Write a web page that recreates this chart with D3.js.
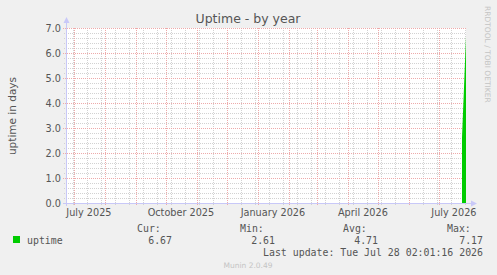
<!DOCTYPE html>
<html>
<head>
<meta charset="utf-8">
<script src="https://cdn.jsdelivr.net/npm/d3@7"></script>
<style>
  html, body { margin: 0; padding: 0; background: #f0f0f0; }
</style>
</head>
<body>
<div id="chart"></div>
<script>
var startTime = "2025-06-23T02:01:16";
var endTime = "2026-07-28T02:01:16";
var sampleDates = ["2026-07-24", "2026-07-25", "2026-07-26", "2026-07-27", "2026-07-28"];
var uptimeValues = [2.61, 3.62, 4.62, 5.65, 6.67];
var yTicks = [0, 1, 2, 3, 4, 5, 6, 7];
var statLabels = ["Cur:", "Min:", "Avg:", "Max:"];
var statValues = ["6.67", "2.61", "4.71", "7.17"];
var seriesName = "uptime";
var lastUpdate = "Last update: Tue Jul 28 02:01:16 2026";

var drawChart = function() {

    // sizes
    const width = 497, height = 275;
    const left = 66, right = 466, top = 28, bottom = 203;
    var textColor = "#555";
    var sans = "'DejaVu Sans', sans-serif";
    var mono = "'DejaVu Sans Mono', monospace";
    var green = "#00cc00";
    var minorColor = "#d2d2d2";
    var majorColor = "#eeaaaa";

    var svg = d3.select("#chart").append("svg")
        .attr("width", width)
        .attr("height", height)
        .style("display", "block")
        .style("background", "#f0f0f0");

    var parse = d3.timeParse("%Y-%m-%dT%H:%M:%S");
    var parseDay = d3.timeParse("%Y-%m-%d");
    var t0 = parse(startTime), t1 = parse(endTime);

    var x = d3.scaleTime().domain([t0, t1]).range([left, right]);
    var y = d3.scaleLinear().domain([0, 7]).range([bottom, top]);

    // plot canvas
    svg.append("rect")
        .attr("x", left).attr("y", top)
        .attr("width", right - left).attr("height", bottom - top)
        .attr("fill", "#fff");

    var grid = svg.append("g").attr("shape-rendering", "crispEdges");

    // minor grid: every 0.2 days, every second monday
    var minorY = d3.range(0, 7.001, 0.2).filter(function(v) { return Math.abs(v - Math.round(v)) > 0.01; });
    grid.selectAll(".ymin").data(minorY).enter().append("line")
        .attr("x1", left - 2).attr("x2", right)
        .attr("y1", function(d) { return Math.round(y(d)) + 0.5; })
        .attr("y2", function(d) { return Math.round(y(d)) + 0.5; })
        .attr("stroke", minorColor).attr("stroke-dasharray", "1,1");

    var minorX = d3.timeMonday.every(2).range(d3.timeMonday.ceil(t0), t1);
    grid.selectAll(".xmin").data(minorX).enter().append("line")
        .attr("x1", function(d) { return Math.round(x(d)) + 0.5; })
        .attr("x2", function(d) { return Math.round(x(d)) + 0.5; })
        .attr("y1", top).attr("y2", bottom + 2)
        .attr("stroke", minorColor).attr("stroke-dasharray", "1,1");

    // major grid: whole days, month starts
    grid.selectAll(".ymaj").data(yTicks).enter().append("line")
        .attr("x1", left - 3).attr("x2", right)
        .attr("y1", function(d) { return Math.round(y(d)) + 0.5; })
        .attr("y2", function(d) { return Math.round(y(d)) + 0.5; })
        .attr("stroke", majorColor).attr("stroke-dasharray", "1,1");

    var months = d3.timeMonth.range(d3.timeMonth.ceil(t0), t1);
    grid.selectAll(".xmaj").data(months).enter().append("line")
        .attr("x1", function(d) { return Math.round(x(d)) + 0.5; })
        .attr("x2", function(d) { return Math.round(x(d)) + 0.5; })
        .attr("y1", top).attr("y2", bottom + 3)
        .attr("stroke", majorColor).attr("stroke-dasharray", "1,1");

    // uptime area
    var pts = sampleDates.map(function(d, i) {
        var dt = parseDay(d);
        dt.setHours(2);
        return { t: dt, v: uptimeValues[i] };
    });
    var area = d3.area()
        .x(function(d) { return x(d.t); })
        .y0(y(0))
        .y1(function(d) { return y(d.v); });
    svg.append("path")
        .datum(pts)
        .attr("d", area)
        .attr("fill", green);

    // axes with arrows
    var axisColor = "#c8c8f8";
    svg.append("line")
        .attr("x1", left + 0.5).attr("x2", left + 0.5)
        .attr("y1", bottom + 3).attr("y2", top - 6)
        .attr("stroke", axisColor);
    svg.append("path")
        .attr("d", "M" + (left - 2.5) + "," + (top - 5) + "L" + (left + 0.5) + "," + (top - 11) + "L" + (left + 3.5) + "," + (top - 5) + "Z")
        .attr("fill", axisColor);
    svg.append("line")
        .attr("x1", left - 3).attr("x2", right + 6)
        .attr("y1", bottom + 0.5).attr("y2", bottom + 0.5)
        .attr("stroke", axisColor);
    svg.append("path")
        .attr("d", "M" + (right + 5) + "," + (bottom - 2.5) + "L" + (right + 11) + "," + (bottom + 0.5) + "L" + (right + 5) + "," + (bottom + 3.5) + "Z")
        .attr("fill", axisColor);

    // y tick labels
    svg.selectAll(".ylab").data(yTicks).enter().append("text")
        .attr("x", 61)
        .attr("y", function(d) { return y(d) + 3.5; })
        .attr("text-anchor", "end")
        .attr("font-family", sans).attr("font-size", 9.7)
        .attr("fill", textColor)
        .text(function(d) { return d3.format(".1f")(d); });

    // x tick labels, one per quarter, centred mid-month
    var quarters = months.filter(function(d) { return d.getMonth() % 3 === 0; });
    var fmt = d3.timeFormat("%B %Y");
    svg.selectAll(".xlab").data(quarters).enter().append("text")
        .attr("x", function(d) { return x(d3.timeDay.offset(d, 15)); })
        .attr("y", 216)
        .attr("text-anchor", "middle")
        .attr("font-family", sans).attr("font-size", 9.7)
        .attr("fill", textColor)
        .text(fmt);

    // title
    svg.append("text")
        .attr("x", 248).attr("y", 23)
        .attr("text-anchor", "middle")
        .attr("font-family", sans).attr("font-size", 12.5)
        .attr("fill", textColor)
        .text("Uptime - by year");

    // y axis title
    svg.append("text")
        .attr("transform", "translate(16,116) rotate(-90)")
        .attr("text-anchor", "middle")
        .attr("font-family", sans).attr("font-size", 10.5)
        .attr("fill", textColor)
        .text("uptime in days");

    // rrdtool watermark
    svg.append("text")
        .attr("transform", "translate(485,6) rotate(90)")
        .attr("font-family", sans).attr("font-size", 7.5)
        .attr("fill", "#c4c4c4")
        .text("RRDTOOL / TOBI OETIKER");

    // legend
    var legend = svg.append("g")
        .attr("font-family", mono).attr("font-size", 9.9)
        .attr("fill", textColor);
    legend.append("rect")
        .attr("x", 13).attr("y", 236).attr("width", 7).attr("height", 7)
        .attr("fill", green);
    legend.append("text").attr("x", 27).attr("y", 243.5).text(seriesName);

    var colX = [137, 240, 343, 447];
    var valRight = [172, 275, 378, 483];
    legend.selectAll(".hdr").data(statLabels).enter().append("text")
        .attr("x", function(d, i) { return colX[i]; })
        .attr("y", 231.5)
        .text(function(d) { return d; });
    legend.selectAll(".val").data(statValues).enter().append("text")
        .attr("x", function(d, i) { return valRight[i]; })
        .attr("y", 243.5)
        .attr("text-anchor", "end")
        .text(function(d) { return d; });
    legend.append("text")
        .attr("x", 483).attr("y", 255.5)
        .attr("text-anchor", "end")
        .text(lastUpdate);

    svg.append("text")
        .attr("x", 248).attr("y", 268)
        .attr("text-anchor", "middle")
        .attr("font-family", sans).attr("font-size", 7.5)
        .attr("fill", "#c4c4c4")
        .text("Munin 2.0.49");
}

window.addEventListener("load", drawChart);
</script>
</body>
</html>
